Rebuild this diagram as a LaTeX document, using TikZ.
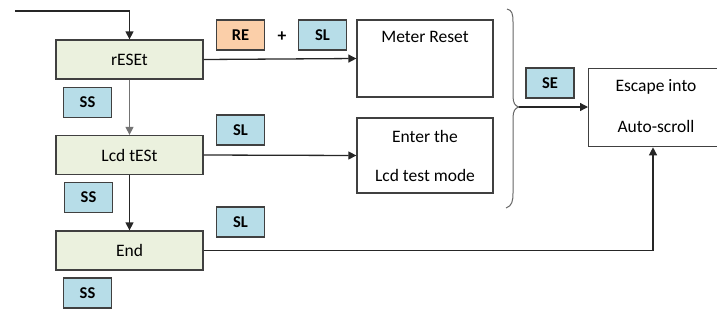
\documentclass[tikz,border=0pt]{standalone}
\usepackage{fontspec}
\setmainfont{Carlito}
\usetikzlibrary{arrows.meta}
\definecolor{stgreen}{HTML}{EBF1DE}
\definecolor{lblue}{HTML}{B7DDE8}
\definecolor{lpeach}{HTML}{FBCFA9}
\definecolor{edge}{HTML}{404040}
\begin{document}
\begin{tikzpicture}[x=1pt,y=-1pt,
  font=\fontsize{17.5}{21}\selectfont,
  statebox/.style={draw=edge,line width=1.3pt,fill=stgreen,minimum width=147pt,minimum height=39pt,inner sep=0pt},
  keybox/.style={draw=edge,line width=1.3pt,fill=lblue,minimum width=48pt,minimum height=30pt,inner sep=0pt,font=\fontsize{16.5}{20}\selectfont\bfseries},
  actbox/.style={draw=edge,line width=1.3pt,fill=white,inner sep=0pt},
  conn/.style={draw=black!85,line width=1.3pt,-{Triangle[length=8pt,width=8pt]}}]
\useasboundingbox (0,0) rectangle (717,325);
% state boxes
\node[statebox] (reset) at (129.5,59.5) {rESEt};
\node[statebox] (lcd) at (129.5,155) {Lcd tESt};
\node[statebox] (end) at (129.5,250.5) {End};
% SS keys
\node[keybox] (ss1) at (87.5,102.5) {SS};
\node[keybox] (ss2) at (88.5,197.5) {SS};
\node[keybox] (ss3) at (87.5,293) {SS};
% SL / RE keys
\node[keybox,fill=lpeach] (re) at (240.5,35) {RE};
\node (plus) at (282,37) {\bfseries +};
\node[keybox] (sl1) at (322.5,35) {SL};
\node[keybox] (sl2) at (240.5,130) {SL};
\node[keybox] (sl3) at (240.5,222) {SL};
% action boxes
\node[actbox,minimum width=136pt,minimum height=77pt] (meter) at (425,58.5) {};
\node at (425,37) {Meter Reset};
\node[actbox,minimum width=136pt,minimum height=75pt] (enter) at (425,155.5) {};
\node at (425,136) {Enter the};
\node at (425,175) {Lcd test mode};
\node[actbox,minimum width=140pt,minimum height=78pt,anchor=north west] (esc) at (588,68) {};
\node at (656,87) {Escape into};
\node at (656,126) {Auto-scroll};
\node[keybox] (se) at (550,83) {SE};
% brace
\coordinate (tip) at (519,107);
\draw[edge!80,line width=1pt] (507,9) .. controls (512,10) and (513,14) .. (513,22)
  -- (513,96) .. controls (513,103) and (515,106) .. (tip)
  .. controls (515,108) and (513,111) .. (513,118)
  -- (513,193) .. controls (513,201) and (512,206) .. (506,208);
% connectors
\coordinate (start) at (15,11);
\draw[conn] (start) -| (reset.north);
\draw[conn,draw=black!55] (reset.south) -- (lcd.north);
\draw[conn] (lcd.south) -- (end.north);
\draw[conn] (reset.east) -- (meter.west);
\draw[conn] (lcd.east) -- (enter.west);
\draw[conn] (tip) -- (esc.west |- tip);
\draw[conn] (end.east) -| (esc.south -| 653,0);
\end{tikzpicture}
\end{document}
